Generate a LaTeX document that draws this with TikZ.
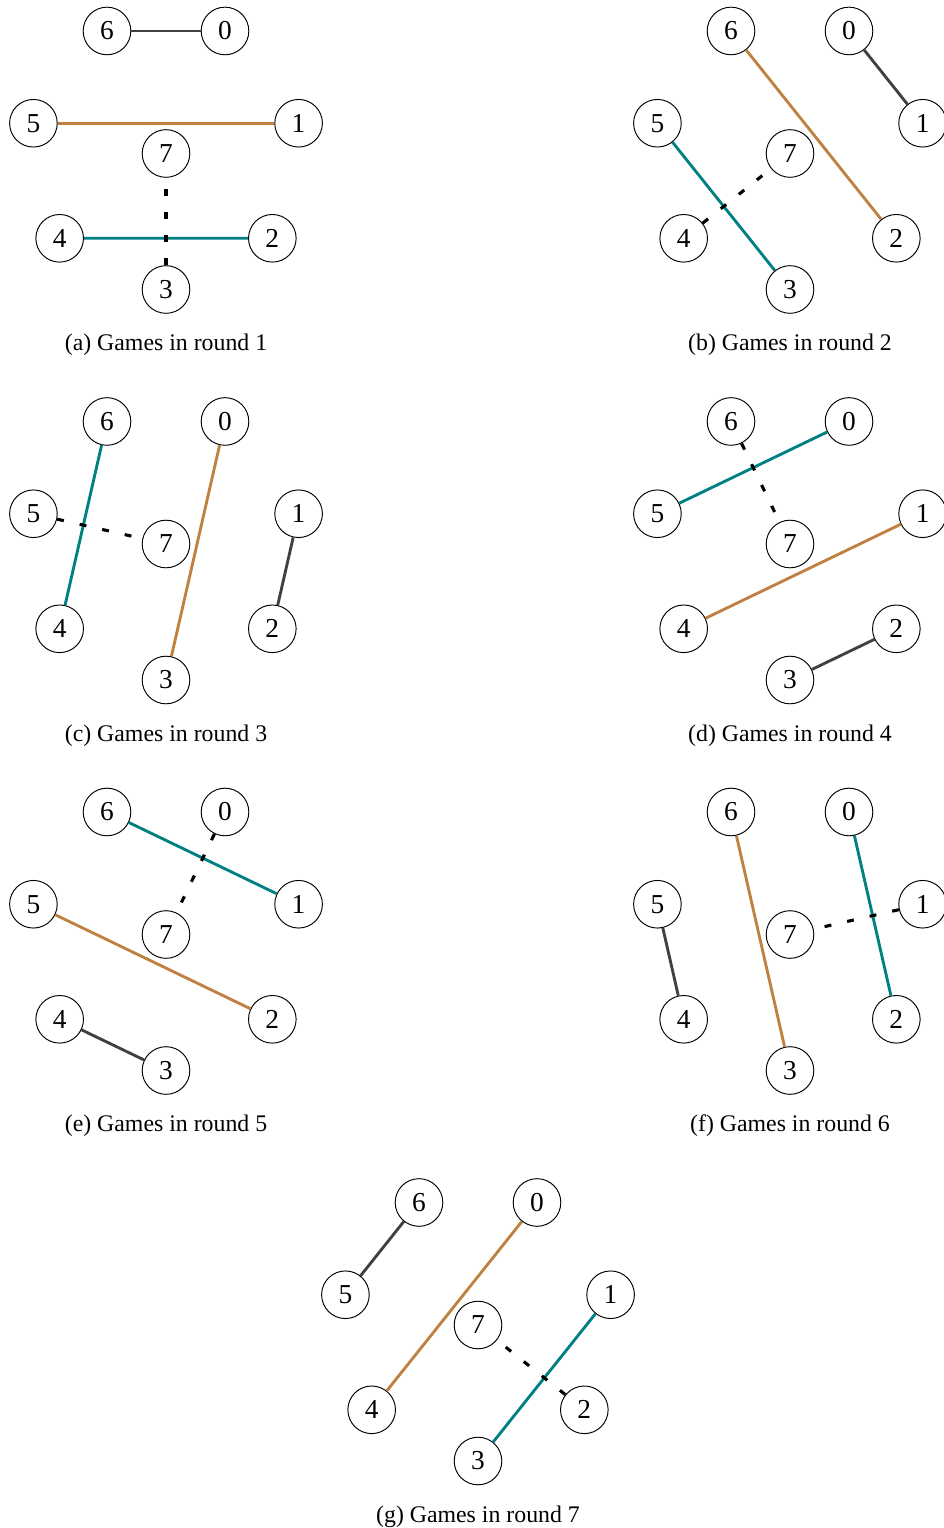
\documentclass[tikz,border=0pt]{standalone}
\usepackage{fontspec}
\setmainfont{Liberation Serif}

\tikzset{
  player/.style={circle, draw, thin, fill=white, minimum size=20pt, inner sep=0pt,
    font=\fontsize{11.5}{13}\selectfont},
  near game/.style={teal, line width=1.2pt},
  mid game/.style={brown, line width=1.2pt},
  far game/.style={darkgray, line width=1.2pt},
  bye game/.style={black, line width=1.3pt, dash pattern=on 2.9pt off 6.8pt, dash phase=5pt},
  caption/.style={font=\fontsize{10}{12}\selectfont}
}

\begin{document}
\begin{tikzpicture}[x=0.42pt, y=0.42pt]
  \useasboundingbox (0,0) rectangle (943,-1528);

  % one panel per round: label/centre x/centre y/round/partner of 7
  \foreach \lab/\cx/\cy/\rnd/\p in {a/166/153.5/1/3, b/790/153.5/2/4, c/166/544/3/5,
      d/790/544/4/6, e/166/934.5/5/0, f/790/934.5/6/1, g/478/1325/7/2} {
    \begin{scope}[shift={(\cx,-\cy)}]
      \node[player] (\lab7) at (0,0) {7};
      \foreach \i in {0,...,6} {
        \pgfmathsetmacro\ang{64.2857-51.4286*\i}
        \node[player] (\lab\i) at (\ang:136) {\i};
      }
      \pgfmathtruncatemacro\na{mod(\p+1,7)}
      \pgfmathtruncatemacro\nb{mod(\p+6,7)}
      \pgfmathtruncatemacro\ma{mod(\p+2,7)}
      \pgfmathtruncatemacro\mb{mod(\p+5,7)}
      \pgfmathtruncatemacro\fa{mod(\p+3,7)}
      \pgfmathtruncatemacro\fb{mod(\p+4,7)}
      \draw[far game] (\lab\fa) -- (\lab\fb);
      \draw[mid game] (\lab\ma) -- (\lab\mb);
      \draw[near game] (\lab\na) -- (\lab\nb);
      \draw[bye game] (\lab7) -- (\lab\p);
      \node[caption] (cap\lab) at (0,-191.5) {(\lab) Games in round \rnd};
    \end{scope}
  }
\end{tikzpicture}
\end{document}
